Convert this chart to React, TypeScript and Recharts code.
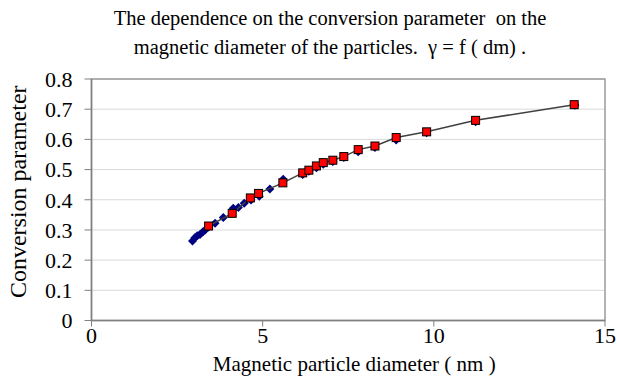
import { ScatterChart, Scatter, XAxis, YAxis, CartesianGrid, ReferenceArea, Label } from "recharts";

// blue diamonds (measured series)
const blueX = [2.95, 3.02, 3.09, 3.17, 3.25, 3.32, 3.42, 3.61, 3.85, 4.14, 4.29, 4.46, 4.66, 4.9, 5.21, 5.6, 6.17, 6.35, 6.57, 6.77, 7.05, 7.37, 7.79, 8.28, 8.9, 9.79, 11.22, 14.12];
const blueY = [0.263, 0.274, 0.281, 0.285, 0.293, 0.3, 0.31, 0.322, 0.341, 0.372, 0.374, 0.388, 0.399, 0.412, 0.436, 0.468, 0.484, 0.494, 0.506, 0.518, 0.527, 0.54, 0.559, 0.573, 0.598, 0.622, 0.658, 0.713];

// red squares joined by a line
const redX = [3.42, 4.11, 4.64, 4.88, 5.59, 6.17, 6.35, 6.57, 6.77, 7.05, 7.37, 7.79, 8.28, 8.9, 9.79, 11.22, 14.1];
const redY = [0.313, 0.355, 0.406, 0.421, 0.456, 0.489, 0.498, 0.512, 0.523, 0.531, 0.543, 0.566, 0.578, 0.606, 0.625, 0.663, 0.715];

const xTicks = [0, 5, 10, 15];
const yTicks = [0, 0.1, 0.2, 0.3, 0.4, 0.5, 0.6, 0.7, 0.8];

const blueData = blueX.map((x, i) => ({ x, y: blueY[i] }));
const redData = redX.map((x, i) => ({ x, y: redY[i] }));

const serif = '"Liberation Serif", "Times New Roman", serif';

const Diamond = (props: any) => {
  const { cx, cy } = props;
  const r = 4.5;
  return <polygon points={`${cx},${cy - r} ${cx + r},${cy} ${cx},${cy + r} ${cx - r},${cy}`} fill="#000080" />;
};

const Square = (props: any) => {
  const { cx, cy } = props;
  const s = 8;
  return <rect x={cx - s / 2} y={cy - s / 2} width={s} height={s} fill="#ff0000" stroke="#000000" strokeWidth={1} />;
};

export default function App() {
  return (
    <div style={{ position: "absolute", left: 0, top: 0, width: 617, height: 392, background: "#fff", fontFamily: serif }}>
      <div
        style={{
          position: "absolute",
          top: 4,
          left: 30,
          width: 600,
          textAlign: "center",
          fontSize: 20.5,
          lineHeight: "29px",
          color: "#000",
          whiteSpace: "pre",
        }}
      >
        {"The dependence on the conversion parameter  on the\nmagnetic diameter of the particles.  \u03b3 = f ( dm) ."}
      </div>
      <ScatterChart width={617} height={392} margin={{ top: 79, right: 12, bottom: 41.5, left: 0 }}>
        <CartesianGrid horizontal vertical={false} stroke="#d9d9d9" strokeWidth={1} />
        <ReferenceArea x1={0} x2={15} y1={0} y2={0.8} fill="none" stroke="#9a9a9a" strokeWidth={1.5} ifOverflow="visible" />
        <XAxis
          type="number"
          dataKey="x"
          domain={[0, 15]}
          ticks={xTicks}
          height={30}
          tickSize={6}
          tickMargin={1}
          axisLine={{ stroke: "#808080", strokeWidth: 1.5 }}
          tickLine={{ stroke: "#808080" }}
          tick={{ fill: "#000", fontSize: 22, fontFamily: serif }}
          interval={0}
        >
          <Label
            content={(p: any) => {
              const vb = p.viewBox;
              return (
                <text x={vb.x + vb.width / 2 + 6} y={vb.y + 50} textAnchor="middle" fontSize={21} fontFamily={serif} fill="#000">
                  {"Magnetic  particle  diameter  ( nm )"}
                </text>
              );
            }}
          />
        </XAxis>
        <YAxis
          type="number"
          dataKey="y"
          domain={[0, 0.8]}
          ticks={yTicks}
          width={91.5}
          tickSize={7}
          tickMargin={12}
          axisLine={{ stroke: "#808080", strokeWidth: 1.5 }}
          tickLine={{ stroke: "#808080" }}
          tick={{ fill: "#000", fontSize: 22, fontFamily: serif }}
          tickFormatter={(v: number) => (v === 0 ? "0" : v.toFixed(1))}
          interval={0}
        >
          <Label
            content={(p: any) => {
              const vb = p.viewBox;
              const cx = 26;
              const cy = vb.y + vb.height / 2 - 8;
              return (
                <text x={cx} y={cy} transform={`rotate(-90, ${cx}, ${cy})`} textAnchor="middle" fontSize={24} fontFamily={serif} fill="#000">
                  Conversion parameter
                </text>
              );
            }}
          />
        </YAxis>
        <Scatter data={blueData} shape={Diamond} isAnimationActive={false} />
        <Scatter
          data={redData}
          shape={Square}
          line={{ stroke: "#404040", strokeWidth: 1.5 }}
          lineType="joint"
          isAnimationActive={false}
        />
      </ScatterChart>
    </div>
  );
}
